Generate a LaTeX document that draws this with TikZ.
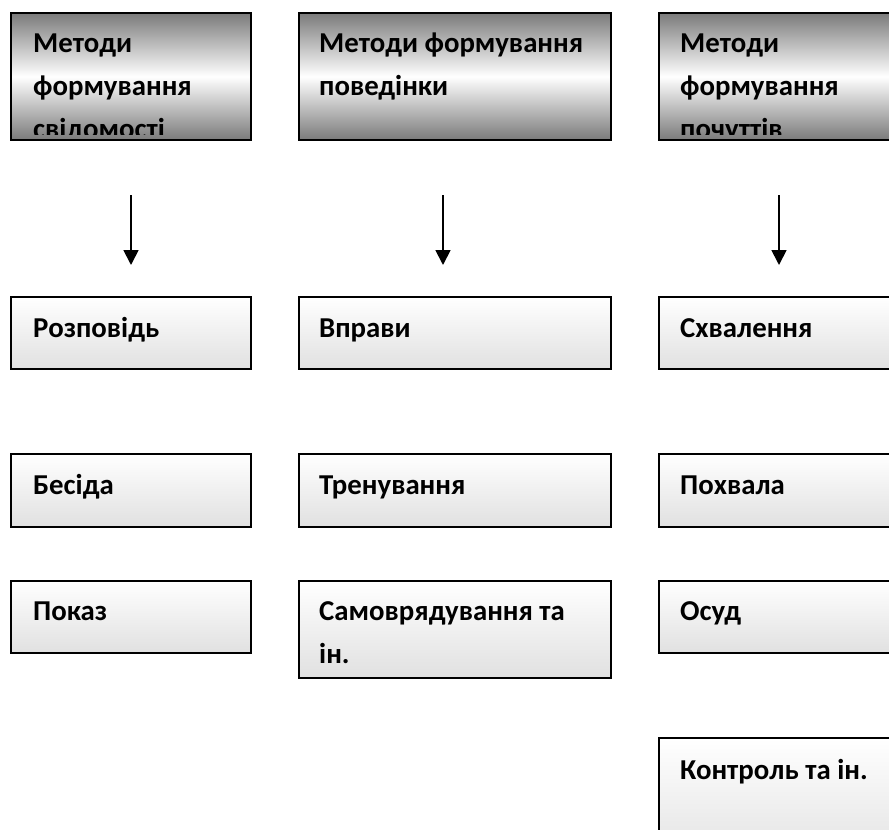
\documentclass[tikz,border=0pt]{standalone}
\usepackage{fontspec}
\setmainfont{Carlito}
\usetikzlibrary{arrows.meta}
\begin{document}
\begin{tikzpicture}[x=1pt,y=1pt,
  box/.style={draw=black, line width=2pt, anchor=north west, inner sep=0pt, outer sep=0pt,
    top color=white, bottom color=black!12, minimum height=72pt},
  headbox/.style={draw=black, line width=2pt, anchor=north west, inner sep=0pt, outer sep=0pt,
    top color=black!52, bottom color=black!52, middle color=white, minimum height=127pt},
  lbl/.style={anchor=base west, inner sep=0pt, font=\bfseries\fontsize{28.8}{43}\selectfont, align=left},
  arr/.style={line width=1.8pt, -{Triangle[width=15pt,length=15pt]}}]
\clip (0,0) rectangle (889,-830);
\fill[white] (0,0) rectangle (889,-830);

% header boxes
\node[headbox, minimum width=240pt] (h1) at (11,-13) {};
\node[headbox, minimum width=312pt] (h2) at (299,-13) {};
\node[headbox, minimum width=250pt] (h3) at (659,-13) {};
% (the base anchor of a multi-line label is the baseline of its last line)
\begin{scope}
  \clip (11,-13) rectangle (251,-134);
  \node[lbl] (t1) at (33,-138) {Методи\\формування\\свідомості};
\end{scope}
\begin{scope}
  \clip (299,-13) rectangle (611,-134);
  \node[lbl] (t2) at (319,-95) {Методи формування\\поведінки};
\end{scope}
\begin{scope}
  \clip (659,-13) rectangle (889,-134);
  \node[lbl] (t3) at (680,-138) {Методи\\формування\\почуттів};
\end{scope}

% arrows
\coordinate (s1) at (131,-195); \coordinate (e1) at (131,-265);
\coordinate (s2) at (443,-195); \coordinate (e2) at (443,-265);
\coordinate (s3) at (779,-195); \coordinate (e3) at (779,-265);
\draw[arr] (s1) -- (e1);
\draw[arr] (s2) -- (e2);
\draw[arr] (s3) -- (e3);

% column 1
\node[box, minimum width=240pt] (a1) at (11,-297) {};
\node[lbl] (la1) at (33,-337) {Розповідь};
\node[box, minimum width=240pt, minimum height=73pt] (a2) at (11,-454) {};
\node[lbl] (la2) at (33,-494) {Бесіда};
\node[box, minimum width=240pt] (a3) at (11,-581) {};
\node[lbl] (la3) at (33,-620) {Показ};

% column 2
\node[box, minimum width=312pt] (b1) at (299,-297) {};
\node[lbl] (lb1) at (319,-337) {Вправи};
\node[box, minimum width=312pt, minimum height=73pt] (b2) at (299,-454) {};
\node[lbl] (lb2) at (319,-494) {Тренування};
\node[box, minimum width=312pt, minimum height=97pt] (b3) at (299,-581) {};
\node[lbl] (lb3) at (319,-663) {Самоврядування та\\ін.};

% column 3
\node[box, minimum width=250pt] (c1) at (659,-297) {};
\node[lbl] (lc1) at (680,-337) {Схвалення};
\node[box, minimum width=250pt, minimum height=73pt] (c2) at (659,-454) {};
\node[lbl] (lc2) at (680,-494) {Похвала};
\node[box, minimum width=250pt] (c3) at (659,-581) {};
\node[lbl] (lc3) at (680,-620) {Осуд};
\node[box, minimum width=250pt, minimum height=130pt] (c4) at (659,-738) {};
\node[lbl] (lc4) at (680,-779) {Контроль та ін.};
\end{tikzpicture}
\end{document}
